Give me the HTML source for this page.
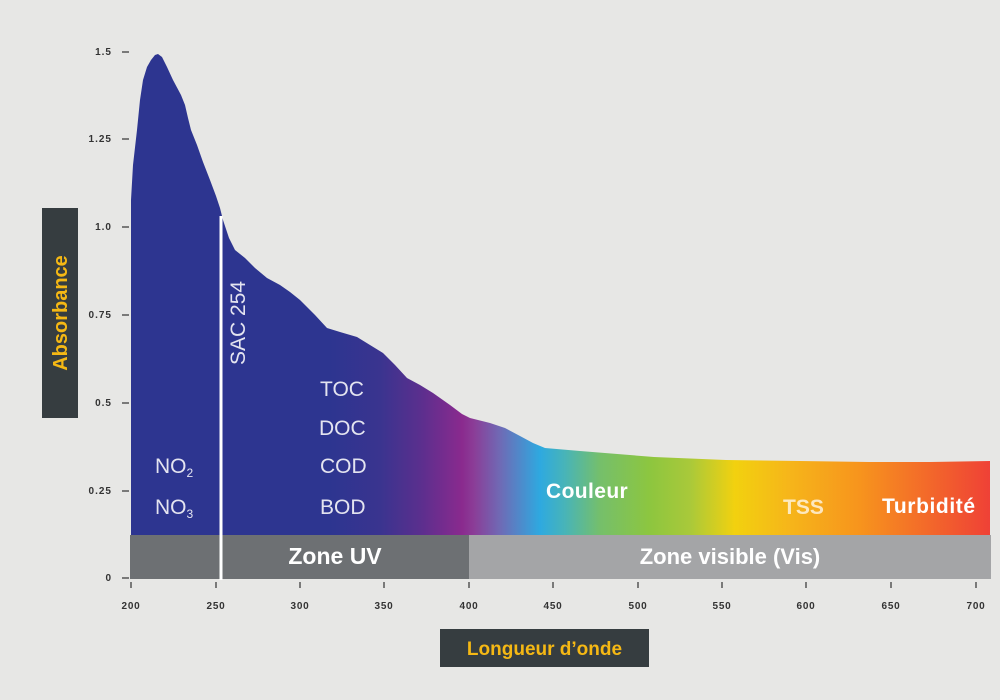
<!DOCTYPE html>
<html><head><meta charset="utf-8"><style>
html,body{margin:0;padding:0;background:#e7e7e5;}
svg{display:block;}
text{font-family:"Liberation Sans",sans-serif;}
</style></head><body>
<svg width="1000" height="700" viewBox="0 0 1000 700" xmlns="http://www.w3.org/2000/svg">
<defs>
<linearGradient id="spec" gradientUnits="userSpaceOnUse" x1="131" y1="0" x2="990" y2="0">
<stop offset="0" stop-color="#2d3590"/>
<stop offset="0.2317" stop-color="#2d3590"/>
<stop offset="0.2899" stop-color="#3a348f"/>
<stop offset="0.3364" stop-color="#5a2f8e"/>
<stop offset="0.3853" stop-color="#8a2a8e"/>
<stop offset="0.3993" stop-color="#8b3d97"/>
<stop offset="0.4296" stop-color="#6f6ab5"/>
<stop offset="0.4761" stop-color="#2ea9e0"/>
<stop offset="0.5052" stop-color="#48b4b8"/>
<stop offset="0.546" stop-color="#75bf6b"/>
<stop offset="0.6042" stop-color="#8dc63f"/>
<stop offset="0.6508" stop-color="#a9c93a"/>
<stop offset="0.7031" stop-color="#f2d10f"/>
<stop offset="0.7672" stop-color="#f6b51a"/>
<stop offset="0.8487" stop-color="#f7941d"/>
<stop offset="1" stop-color="#ef4136"/>
</linearGradient>
</defs>
<rect x="0" y="0" width="1000" height="700" fill="#e7e7e5"/>

<!-- spectrum area -->
<path fill="url(#spec)" d="M131,536 L131,200 L133,165 L137,130 L140,100 L143,80 L147,67 L151,60 L155,55 L158,54 L162,57 L167,67 L173,80 L181,95 L185,105 L188,118 L191,130 L197,145 L203,162 L210,180 L216,196 L220,208 L223,220 L229,238 L235,250 L245,258 L255,268 L267,278 L280,285 L290,292 L300,300 L315,315 L327,328 L340,332 L357,337 L370,345 L383,353 L395,365 L407,378 L420,385 L433,393 L450,405 L462,414 L470,418 L490,423 L505,428 L520,436 L533,443 L545,448 L580,451 L654,457 L726,460 L800,461 L869,462 L930,462 L990,461 L990,536 Z"/>

<!-- zone bands -->
<rect x="130" y="535" width="339" height="44" fill="#6d7073"/>
<rect x="469" y="535" width="522" height="44" fill="#a4a5a7"/>

<!-- SAC 254 line -->
<rect x="219.5" y="216" width="3" height="364" fill="#ffffff"/>

<!-- band labels -->
<text x="335" y="564" font-size="23" font-weight="bold" fill="#ffffff" text-anchor="middle">Zone UV</text>
<text x="730" y="564" font-size="22" font-weight="bold" fill="#ffffff" text-anchor="middle">Zone visible (Vis)</text>

<!-- inside labels -->
<g font-size="21" fill="#e4e4f0">
<text x="155" y="473">NO<tspan font-size="12" dy="4">2</tspan></text>
<text x="155" y="514">NO<tspan font-size="12" dy="4">3</tspan></text>
<text x="320" y="396">TOC</text>
<text x="319" y="435">DOC</text>
<text x="320" y="473">COD</text>
<text x="320" y="514">BOD</text>
<text transform="translate(245,365) rotate(-90)">SAC 254</text>
</g>
<text x="546" y="498" font-size="21" font-weight="bold" fill="#ffffff" letter-spacing="0.4">Couleur</text>
<text x="783" y="514" font-size="21" font-weight="bold" fill="#ffffff" fill-opacity="0.72">TSS</text>
<text x="882" y="513" font-size="21" font-weight="bold" fill="#ffffff" letter-spacing="0.6">Turbidité</text>

<!-- y ticks -->
<g stroke="#555" stroke-width="1.5">
<line x1="122" y1="52" x2="129" y2="52"/>
<line x1="122" y1="139" x2="129" y2="139"/>
<line x1="122" y1="227" x2="129" y2="227"/>
<line x1="122" y1="315" x2="129" y2="315"/>
<line x1="122" y1="403" x2="129" y2="403"/>
<line x1="122" y1="491" x2="129" y2="491"/>
<line x1="122" y1="578" x2="129" y2="578"/>
</g>
<g font-size="10" font-weight="bold" fill="#333" text-anchor="end" letter-spacing="1">
<text x="112" y="55">1.5</text>
<text x="112" y="142">1.25</text>
<text x="112" y="230">1.0</text>
<text x="112" y="318">0.75</text>
<text x="112" y="406">0.5</text>
<text x="112" y="494">0.25</text>
<text x="112" y="581">0</text>
</g>

<!-- x ticks -->
<g stroke="#555" stroke-width="1.5">
<line x1="131" y1="582" x2="131" y2="588"/>
<line x1="216" y1="582" x2="216" y2="588"/>
<line x1="300" y1="582" x2="300" y2="588"/>
<line x1="384" y1="582" x2="384" y2="588"/>
<line x1="469" y1="582" x2="469" y2="588"/>
<line x1="553" y1="582" x2="553" y2="588"/>
<line x1="638" y1="582" x2="638" y2="588"/>
<line x1="722" y1="582" x2="722" y2="588"/>
<line x1="806" y1="582" x2="806" y2="588"/>
<line x1="891" y1="582" x2="891" y2="588"/>
<line x1="976" y1="582" x2="976" y2="588"/>
</g>
<g font-size="10" font-weight="bold" fill="#333" text-anchor="middle" letter-spacing="0.8">
<text x="131" y="609">200</text>
<text x="216" y="609">250</text>
<text x="300" y="609">300</text>
<text x="384" y="609">350</text>
<text x="469" y="609">400</text>
<text x="553" y="609">450</text>
<text x="638" y="609">500</text>
<text x="722" y="609">550</text>
<text x="806" y="609">600</text>
<text x="891" y="609">650</text>
<text x="976" y="609">700</text>
</g>

<!-- axis title boxes -->
<rect x="42" y="208" width="36" height="210" fill="#363d40"/>
<text transform="translate(67,313) rotate(-90)" font-size="20" font-weight="bold" fill="#f5b814" text-anchor="middle">Absorbance</text>

<rect x="440" y="629" width="209" height="38" fill="#363d40"/>
<text x="544.5" y="655" font-size="19" font-weight="bold" fill="#f5b814" text-anchor="middle">Longueur d’onde</text>
</svg>
</body></html>
